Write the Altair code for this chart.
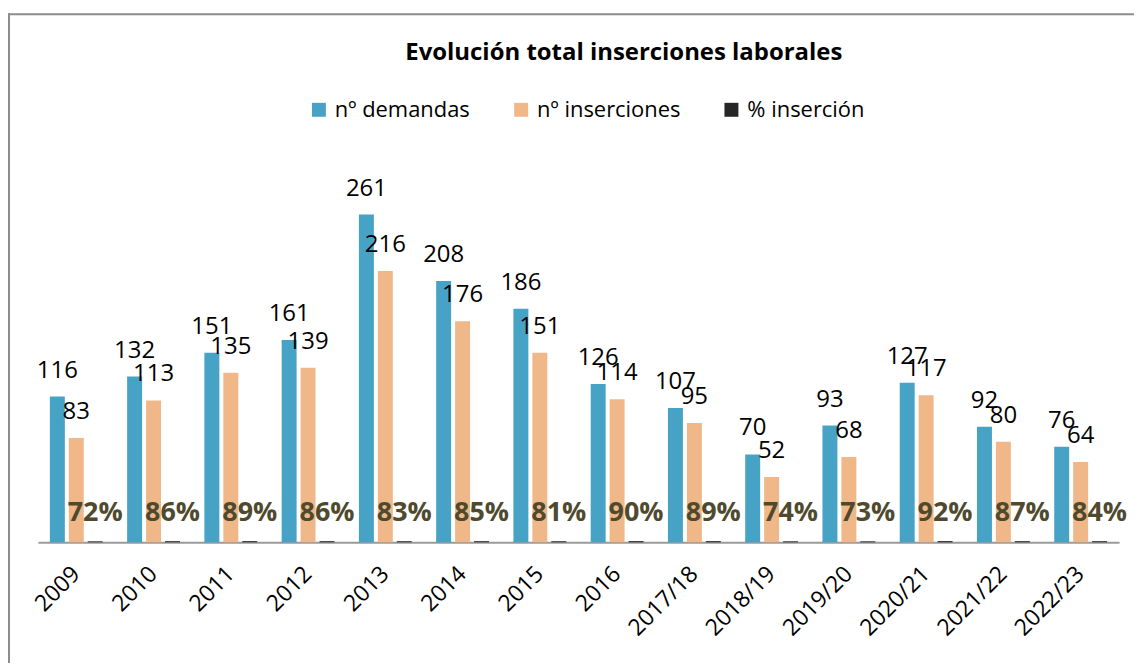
import altair as alt
import pandas as pd

years = ["2009", "2010", "2011", "2012", "2013", "2014", "2015", "2016",
         "2017/18", "2018/19", "2019/20", "2020/21", "2021/22", "2022/23"]
demandas = [116, 132, 151, 161, 261, 208, 186, 126, 107, 70, 93, 127, 92, 76]
inserciones = [83, 113, 135, 139, 216, 176, 151, 114, 95, 52, 68, 117, 80, 64]
pct = [72, 86, 89, 86, 83, 85, 81, 90, 89, 74, 73, 92, 87, 84]
series = ["nº demandas", "nº inserciones", "% inserción"]
colors = ["#46a3c6", "#f0b888", "#262626"]
title = "Evolución total inserciones laborales"

rows = []
for i, yr in enumerate(years):
    rows.append(dict(year=yr, series=series[0], value=demandas[i], label=str(demandas[i])))
    rows.append(dict(year=yr, series=series[1], value=inserciones[i], label=str(inserciones[i])))
    rows.append(dict(year=yr, series=series[2], value=pct[i] / 100, label=f"{pct[i]}%"))
df = pd.DataFrame(rows)

FONT = "Open Sans"

x_enc = alt.X("year:N", sort=years,
              scale=alt.Scale(domain=years, paddingInner=0.316, paddingOuter=0.155),
              axis=alt.Axis(title=None, labelAngle=-45, labelAlign="right", labelBaseline="middle",
                            labelPadding=28, labelFont=FONT, labelFontSize=23, labelColor="#000000",
                            ticks=False, domainColor="#9a9a9a", domainWidth=2, grid=False))
xo_enc = alt.XOffset("series:N", sort=series,
                     scale=alt.Scale(domain=series, paddingInner=0.21, paddingOuter=0))
y_scale = alt.Scale(domain=[0, 300], nice=False)

base = alt.Chart(df)

bars = base.mark_bar().encode(
    x=x_enc,
    xOffset=xo_enc,
    y=alt.Y("value:Q", scale=y_scale, axis=None),
    color=alt.Color("series:N", sort=series,
                    scale=alt.Scale(domain=series, range=colors),
                    legend=alt.Legend(title=None, orient="none", legendX=271, legendY=-67,
                                      direction="horizontal", columns=3, symbolType="square",
                                      symbolSize=196, symbolStrokeWidth=0, labelFont=FONT,
                                      labelFontSize=22, labelColor="#000000", labelOffset=5,
                                      columnPadding=40, padding=0)),
)

count_labels = base.transform_filter(
    alt.datum.series != "% inserción"
).mark_text(font=FONT, fontSize=24, color="#000000", baseline="alphabetic", dy=-19).encode(
    x=x_enc, xOffset=xo_enc,
    y=alt.Y("value:Q", scale=y_scale, axis=None),
    text="label:N",
)

pct_labels = base.transform_filter(
    alt.datum.series == "% inserción"
).mark_text(font=FONT, fontSize=27, fontWeight="bold", color="#4f4a2e",
            baseline="alphabetic", dy=-21).encode(
    x=x_enc, xOffset=xo_enc,
    y=alt.datum(0),
    text="label:N",
)

one = pd.DataFrame({"t": [title]})
title_mark = alt.Chart(one).mark_text(font=FONT, fontSize=24, fontWeight="bold",
                                      color="#000000", baseline="middle", align="center").encode(
    x=alt.value(588), y=alt.value(-113), text="t:N")

frame_top = alt.Chart(one).mark_rule(color="#8c8c8c", strokeWidth=2).encode(
    x=alt.value(-30), x2=alt.value(1200), y=alt.value(-152))
frame_left = alt.Chart(one).mark_rule(color="#8c8c8c", strokeWidth=2).encode(
    x=alt.value(-29), y=alt.value(-153), y2=alt.value(600))

chart = alt.layer(bars, count_labels, pct_labels, title_mark, frame_top, frame_left).properties(
    width=1085, height=378,
    autosize=alt.AutoSizeParams(type="none"),
    padding={"left": 30, "top": 157, "right": 15, "bottom": 120},
).configure_view(stroke=None)

chart.save("out.html", embed_options={"renderer": "svg", "actions": False})
